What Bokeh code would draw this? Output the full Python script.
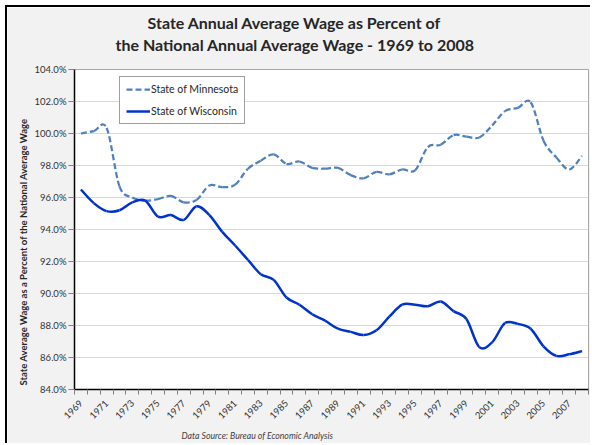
import math
import numpy as np
from bokeh.plotting import figure
from bokeh.models import (Range1d, FixedTicker, PrintfTickFormatter, Title,
                          Legend, LegendItem, ColumnDataSource)
from bokeh.embed import file_html
from bokeh.resources import INLINE

# ---------------- data ----------------
years = list(range(1969, 2009))
minnesota = [100.0, 100.15, 100.35, 96.7, 96.0, 95.8, 95.9, 96.1, 95.7, 95.85,
             96.75, 96.65, 96.8, 97.8, 98.3, 98.7, 98.1, 98.25, 97.85, 97.8,
             97.85, 97.4, 97.2, 97.6, 97.45, 97.75, 97.7, 99.15, 99.3, 99.9,
             99.8, 99.75, 100.5, 101.4, 101.6, 101.95, 99.55, 98.5, 97.75, 98.6]
wisconsin = [96.5, 95.65, 95.15, 95.2, 95.7, 95.8, 94.8, 94.9, 94.6, 95.45,
             94.9, 93.85, 93.0, 92.1, 91.2, 90.85, 89.75, 89.3, 88.7, 88.3,
             87.8, 87.6, 87.4, 87.7, 88.55, 89.3, 89.3, 89.2, 89.5, 88.9,
             88.4, 86.65, 86.95, 88.15, 88.1, 87.8, 86.7, 86.1, 86.2, 86.4]
series_names = ["State of Minnesota", "State of Wisconsin"]
y_ticks = [84, 86, 88, 90, 92, 94, 96, 98, 100, 102, 104]
x_label_years = years[::2]
x_boundaries = [y - 0.5 for y in years] + [years[-1] + 0.5]

title_line1 = "State Annual Average Wage as Percent of"
title_line2 = "the National Annual Average Wage - 1969 to 2008"
y_title = "State Average Wage as a Percent of the National Average Wage"
source_note = "Data Source:  Bureau of Economic Analysis"

FONT = "Lato"


def smooth_segments(xs, ys):
    """Cubic Bezier segments (Catmull-Rom style) through the data points."""
    P = np.column_stack([xs, ys]).astype(float)
    n = len(P)
    d = dict(x0=[], y0=[], x1=[], y1=[], cx0=[], cy0=[], cx1=[], cy1=[])
    for i in range(n - 1):
        p0 = P[max(i - 1, 0)]
        p1 = P[i]
        p2 = P[i + 1]
        p3 = P[min(i + 2, n - 1)]
        c1 = p1 + (p2 - p0) / 6.0
        c2 = p2 - (p3 - p1) / 6.0
        d["x0"].append(p1[0]); d["y0"].append(p1[1])
        d["x1"].append(p2[0]); d["y1"].append(p2[1])
        d["cx0"].append(c1[0]); d["cy0"].append(c1[1])
        d["cx1"].append(c2[0]); d["cy1"].append(c2[1])
    return ColumnDataSource(d)


p = figure(width=585, height=438, output_backend="svg", toolbar_location=None,
           x_range=Range1d(years[0] - 0.5, years[-1] + 0.5),
           y_range=Range1d(y_ticks[0], y_ticks[-1]),
           min_border_left=67, min_border_right=4,
           min_border_top=62, min_border_bottom=56,
           styles={"margin-left": "5px", "margin-top": "5px",
                   "border-left": "2px solid black",
                   "border-top": "2px solid black"})

p.border_fill_color = "#f2f2f2"
p.background_fill_color = "white"
p.outline_line_color = "#a6a6a6"
p.outline_line_width = 1

# grid
p.xgrid.visible = False
p.ygrid.grid_line_color = "#d9d9d9"
p.ygrid.grid_line_width = 1

# y axis
p.yaxis.ticker = FixedTicker(ticks=y_ticks)
p.yaxis.formatter = PrintfTickFormatter(format="%.1f%%")
p.yaxis.axis_line_color = "black"
p.yaxis.axis_line_width = 1.5
p.yaxis.major_tick_line_color = "#808080"
p.yaxis.major_tick_out = 6
p.yaxis.major_tick_in = 0
p.yaxis.minor_tick_line_color = None
p.yaxis.major_label_standoff = 2
p.yaxis.major_label_text_font = FONT
p.yaxis.major_label_text_font_size = "9.5px"
p.yaxis.major_label_text_color = "#333333"

# x axis
p.xaxis.ticker = FixedTicker(ticks=x_label_years, minor_ticks=x_boundaries)
p.xaxis.formatter = PrintfTickFormatter(format="%d")
p.xaxis.axis_line_color = "black"
p.xaxis.axis_line_width = 1.5
p.xaxis.major_tick_line_color = None
p.xaxis.minor_tick_line_color = "#808080"
p.xaxis.minor_tick_out = 5
p.xaxis.minor_tick_in = 0
p.xaxis.major_label_orientation = math.pi / 4
p.xaxis.major_label_standoff = 6
p.xaxis.major_label_text_font = FONT
p.xaxis.major_label_text_font_size = "9.5px"
p.xaxis.major_label_text_color = "#333333"

# series
src_mn = smooth_segments(years, minnesota)
src_wi = smooth_segments(years, wisconsin)
r_mn = p.bezier(x0="x0", y0="y0", x1="x1", y1="y1", cx0="cx0", cy0="cy0",
                cx1="cx1", cy1="cy1", source=src_mn, line_color="#4f81bd",
                line_width=2.25, line_dash="6 3")
r_wi = p.bezier(x0="x0", y0="y0", x1="x1", y1="y1", cx0="cx0", cy0="cy0",
                cx1="cx1", cy1="cy1", source=src_wi, line_color="#0033cc",
                line_width=2.5)

legend = Legend(items=[LegendItem(label=series_names[0], renderers=[r_mn]),
                       LegendItem(label=series_names[1], renderers=[r_wi])],
                location=(45, 265), orientation="vertical",
                padding=6, spacing=10, margin=0,
                glyph_width=24, glyph_height=12, label_height=12,
                label_standoff=1,
                label_text_font=FONT, label_text_font_size="10.5px",
                label_text_color="#262626",
                border_line_color="#404040", border_line_width=1.25,
                background_fill_color="white", background_fill_alpha=1.0)
p.add_layout(legend, "center")

# titles (frame side panels); a blank spacer sits between frame and title
p.add_layout(Title(text=" ", standoff=3, text_font=FONT,
                   text_font_size="8px"), "above")
p.add_layout(Title(text=title_line2, align="left", offset=41, standoff=2,
                   text_font=FONT, text_font_size="16px",
                   text_font_style="bold", text_color="#262626"), "above")
p.add_layout(Title(text=title_line1, align="left", offset=73, standoff=0,
                   text_font=FONT, text_font_size="16px",
                   text_font_style="bold", text_color="#262626"), "above")
p.add_layout(Title(text=y_title, align="left", offset=4, standoff=6,
                   text_font=FONT, text_font_size="9.5px",
                   text_font_style="bold", text_color="#262626"), "left")
p.add_layout(Title(text=source_note, align="left", offset=107, standoff=5,
                   text_font=FONT, text_font_size="8.7px",
                   text_font_style="italic", text_color="#404040"), "below")

open("out.html", "w").write(file_html(p, INLINE))
